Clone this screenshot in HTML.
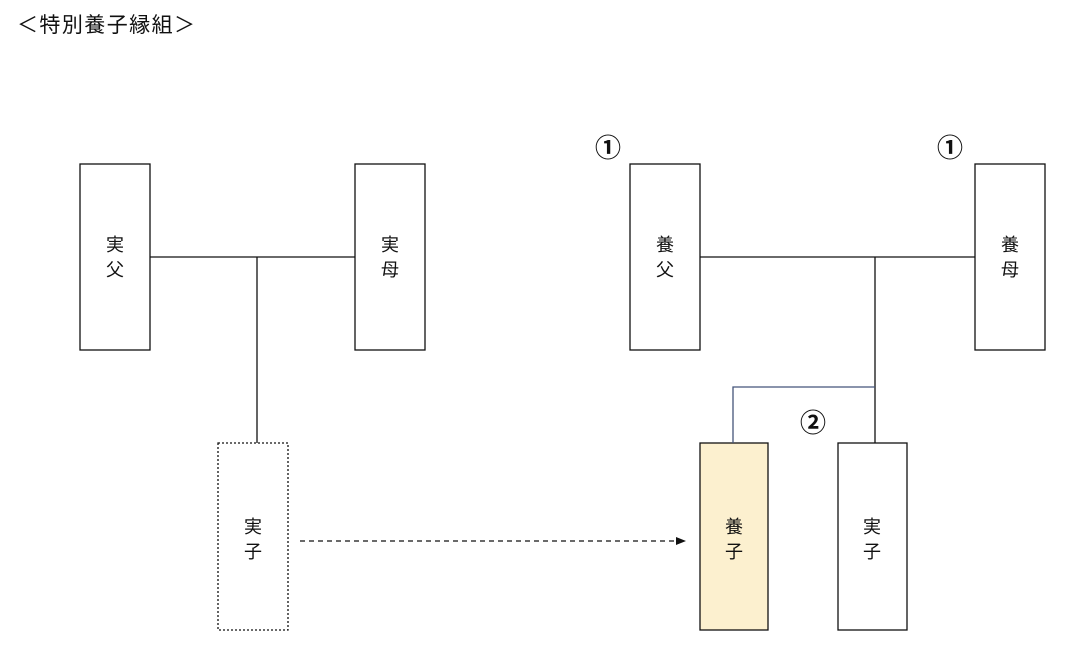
<!DOCTYPE html>
<html><head><meta charset="utf-8"><style>
body{margin:0;background:#fff;width:1068px;height:656px;overflow:hidden;font-family:"Liberation Sans","Noto Sans CJK JP",sans-serif}
</style></head><body>
<svg width="1068" height="656" xmlns="http://www.w3.org/2000/svg" font-family="Liberation Sans, Noto Sans CJK JP, sans-serif">
<text x="17" y="32" font-size="21" fill="#111" font-family="Noto Sans CJK JP, sans-serif" textLength="178">＜特別養子縁組＞</text>
<g stroke="#111" stroke-width="1.3" fill="#fff">
<line x1="150" y1="257" x2="355" y2="257"/>
<line x1="257" y1="257" x2="257" y2="443"/>
<line x1="700" y1="257" x2="975" y2="257"/>
<line x1="875" y1="257" x2="875" y2="443"/>
<rect x="80" y="164" width="70" height="186"/>
<rect x="355" y="164" width="70" height="186"/>
<rect x="630" y="164" width="70" height="186"/>
<rect x="975" y="164" width="70" height="186"/>
<rect x="218" y="443" width="70" height="187" stroke-dasharray="2,2"/>
<rect x="700" y="443" width="68" height="187" fill="#fcf0cf"/>
<rect x="838" y="443" width="69" height="187"/>
</g>
<polyline points="875,387 733,387 733,443" fill="none" stroke="#44557a" stroke-width="1.3"/>
<line x1="300" y1="541" x2="678" y2="541" stroke="#111" stroke-width="1.3" stroke-dasharray="5,4"/>
<polygon points="686,541 676,537 676,545" fill="#111"/>
<g font-size="18" fill="#111" text-anchor="middle" font-family="Noto Sans CJK JP, sans-serif">
<text x="115" y="251">実</text><text x="115" y="276">父</text>
<text x="390" y="251">実</text><text x="390" y="276">母</text>
<text x="665" y="251">養</text><text x="665" y="276">父</text>
<text x="1010" y="251">養</text><text x="1010" y="276">母</text>
<text x="253" y="533">実</text><text x="253" y="558">子</text>
<text x="734" y="533">養</text><text x="734" y="558">子</text>
<text x="872" y="533">実</text><text x="872" y="558">子</text>
<text x="608" y="157" font-size="26" font-weight="bold">①</text>
<text x="950" y="157" font-size="26" font-weight="bold">①</text>
<text x="813" y="432" font-size="26" font-weight="bold">②</text>
</g>
</svg>
</body></html>
